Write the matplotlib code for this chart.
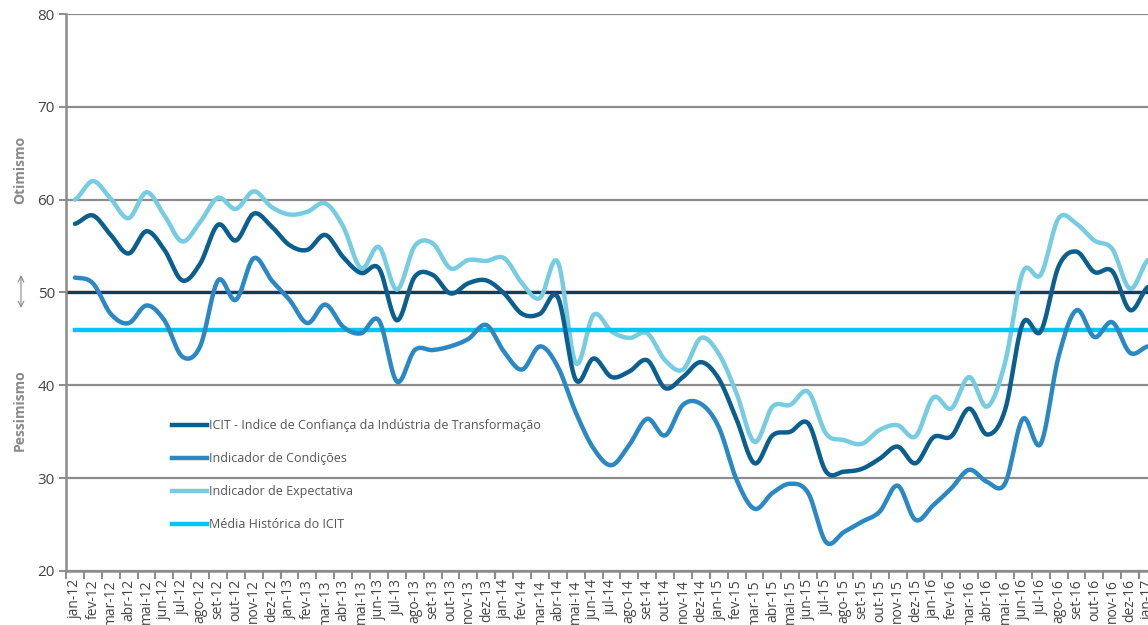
import numpy as np
import matplotlib
matplotlib.use("Agg")
import matplotlib.pyplot as plt

plt.rcParams['font.family'] = ['Open Sans', 'DejaVu Sans']

meses = ['jan', 'fev', 'mar', 'abr', 'mai', 'jun', 'jul', 'ago', 'set', 'out', 'nov', 'dez']
labels = ['%s-%d' % (m, a) for a in range(12, 17) for m in meses] + ['jan-17']

icit = [57.4, 58.3, 56.2, 54.2, 56.6, 54.6, 51.3, 53.1, 57.3, 55.6, 58.5, 57.1,
        55.1, 54.6, 56.2, 53.8, 52.1, 52.6, 47.0, 51.7, 51.9, 49.9, 51.0, 51.3,
        49.9, 47.7, 47.7, 49.5, 40.6, 42.9, 40.9, 41.5, 42.7, 39.7, 40.9, 42.5,
        40.7, 36.3, 31.6, 34.6, 35.0, 35.9, 30.7, 30.7, 31.0, 32.1, 33.4, 31.6,
        34.4, 34.5, 37.5, 34.7, 37.3, 46.7, 45.8, 52.8, 54.4, 52.2, 52.3, 48.1,
        50.6]

condicoes = [51.6, 51.0, 47.7, 46.7, 48.6, 47.0, 43.1, 44.2, 51.3, 49.2, 53.7, 51.3,
             49.2, 46.7, 48.7, 46.3, 45.6, 47.0, 40.4, 43.8, 43.8, 44.2, 45.0, 46.5,
             43.6, 41.7, 44.2, 42.0, 37.1, 33.2, 31.4, 33.6, 36.4, 34.6, 37.9, 38.0,
             35.5, 29.8, 26.7, 28.4, 29.4, 28.4, 23.1, 24.2, 25.3, 26.4, 29.2, 25.5,
             27.1, 28.9, 30.9, 29.6, 29.4, 36.4, 33.7, 43.1, 48.1, 45.2, 46.8, 43.5,
             44.2]

expectativa = [60.0, 62.0, 60.1, 58.0, 60.8, 58.3, 55.5, 57.6, 60.2, 59.0, 60.9, 59.2,
               58.4, 58.7, 59.6, 57.1, 52.6, 54.9, 50.3, 55.0, 55.3, 52.6, 53.5, 53.4,
               53.7, 51.0, 49.4, 53.3, 42.4, 47.6, 45.8, 45.1, 45.6, 42.7, 41.7, 45.1,
               43.4, 39.1, 33.9, 37.7, 37.9, 39.3, 34.8, 34.1, 33.7, 35.2, 35.7, 34.5,
               38.7, 37.5, 40.9, 37.7, 42.4, 52.2, 51.9, 58.0, 57.4, 55.6, 54.7, 50.4,
               53.5]

media_historica = 46.0
referencia = 50.0


def suave(y, n=12):
    # curva suavizada tipo Excel (Catmull-Rom) entre os pontos mensais
    y = np.asarray(y, dtype=float)
    p = np.concatenate([[y[0]], y, [y[-1]]])
    xs, ys = [], []
    for i in range(len(y) - 1):
        p0, p1, p2, p3 = p[i], p[i + 1], p[i + 2], p[i + 3]
        t = np.linspace(0, 1, n, endpoint=False)
        v = 0.5 * (2 * p1 + (-p0 + p2) * t + (2 * p0 - 5 * p1 + 4 * p2 - p3) * t ** 2
                   + (-p0 + 3 * p1 - 3 * p2 + p3) * t ** 3)
        xs.append(i + t)
        ys.append(v)
    xs.append([len(y) - 1])
    ys.append([y[-1]])
    return np.concatenate(xs), np.concatenate(ys)


fig = plt.figure(figsize=(11.48, 6.25), dpi=100)
ax = fig.add_axes([66 / 1148, 54 / 625, 1 - 66 / 1148, 557 / 625])

x = np.arange(len(labels))

ax.set_ylim(20, 80)
ax.set_xlim(-0.5, 60)
ax.set_yticks([20, 30, 40, 50, 60, 70, 80])
ax.grid(axis='y', color='#8c8c8c', lw=1.6)
ax.set_axisbelow(True)

for s in ['top', 'right']:
    ax.spines[s].set_visible(False)
for s in ['left', 'bottom']:
    ax.spines[s].set_color('#8c8c8c')
    ax.spines[s].set_linewidth(1.8)

ax.axhline(referencia, color='#0b3f60', lw=2.4, zorder=2)

c_icit = '#0a5f8e'
c_cond = '#2a89c4'
c_exp = '#76cde1'
c_med = '#00c6f5'

ax.plot(*suave(expectativa), color=c_exp, lw=3.2, solid_capstyle='round', zorder=3)
ax.plot(*suave(icit), color=c_icit, lw=3.2, solid_capstyle='round', zorder=4)
ax.plot(*suave(condicoes), color=c_cond, lw=3.2, solid_capstyle='round', zorder=4)
ax.plot([-0.0, 60], [media_historica, media_historica], color=c_med, lw=3.2, zorder=3)

# legenda
ax.plot([], [], color=c_icit, lw=3.2, label='ICIT - Indice de Confiança da Indústria de Transformação')
ax.plot([], [], color=c_cond, lw=3.2, label='Indicador de Condições')
ax.plot([], [], color=c_exp, lw=3.2, label='Indicador de Expectativa')
ax.plot([], [], color=c_med, lw=3.2, label='Média Histórica do ICIT')
leg = ax.legend(loc='upper left', bbox_to_anchor=(0.088, 0.293), frameon=False,
                handlelength=2.8, handletextpad=0.1, labelspacing=1.6,
                fontsize=9, labelcolor='#555555')

# eixo x
ax.set_xticks(x)
ax.set_xticklabels(labels, rotation=90, fontsize=10, color='#444444', va='top')
ax.tick_params(axis='x', length=0, pad=6)
ax.set_xticks(np.arange(-0.5, 60.5, 1), minor=True)
ax.tick_params(axis='x', which='minor', length=6, width=1.4, color='#8c8c8c', direction='out')
for b in np.arange(11.5, 60, 12):
    ax.plot([b, b], [-0.011, 0.0], transform=ax.get_xaxis_transform(),
            color='#8c8c8c', lw=1.6, clip_on=False)

ax.tick_params(axis='y', length=5, width=1.4, color='#8c8c8c', labelsize=11,
               labelcolor='#444444', pad=3)

fig.text(20 / 1148, 1 - 170 / 625, 'Otimismo', rotation=90, ha='center', va='center',
         fontsize=10, fontweight='bold', color='#8a8a8a')
fig.text(20 / 1148, 1 - 410 / 625, 'Pessimismo', rotation=90, ha='center', va='center',
         fontsize=10, fontweight='bold', color='#8a8a8a')
fig.add_artist(plt.Annotation('', xy=(21 / 1148, 1 - 308 / 625), xytext=(21 / 1148, 1 - 275 / 625),
                              xycoords='figure fraction', textcoords='figure fraction',
                              arrowprops=dict(arrowstyle='<->', color='#8a8a8a', lw=0.8,
                                              shrinkA=0, shrinkB=0)))

fig.savefig('out.png', dpi=100)
